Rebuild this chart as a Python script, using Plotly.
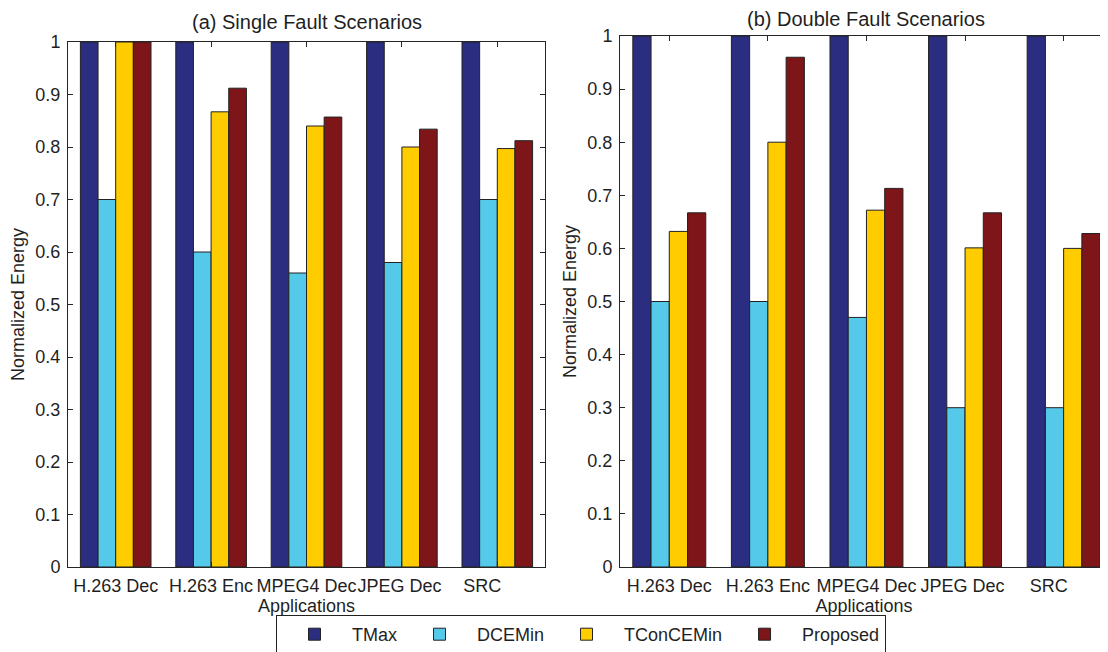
import plotly.graph_objects as go

# ---------------- data ----------------
apps = ["H.263 Dec", "H.263 Enc", "MPEG4 Dec", "JPEG Dec", "SRC"]
# MATLAB-style padded tick labels (char-matrix padding to equal length)
tick_labels = ["H.263 Dec", "H.263 Enc", "MPEG4 Dec", "JPEG Dec\u00a0", "SRC\u00a0\u00a0\u00a0\u00a0\u00a0\u00a0"]
series_names = ["TMax", "DCEMin", "TConCEMin", "Proposed"]
series_colors = ["#2B2D80", "#55C9E9", "#FFCC00", "#7E1518"]

single_tmax = [1.0, 1.0, 1.0, 1.0, 1.0]
single_dcemin = [0.70, 0.60, 0.56, 0.58, 0.70]
single_tconcemin = [1.0, 0.867, 0.840, 0.800, 0.797]
single_proposed = [1.0, 0.912, 0.857, 0.834, 0.812]

double_tmax = [1.0, 1.0, 1.0, 1.0, 1.0]
double_dcemin = [0.50, 0.50, 0.47, 0.30, 0.30]
double_tconcemin = [0.632, 0.800, 0.672, 0.601, 0.600]
double_proposed = [0.667, 0.960, 0.713, 0.667, 0.628]

ytick_vals = [0, 0.1, 0.2, 0.3, 0.4, 0.5, 0.6, 0.7, 0.8, 0.9, 1.0]
ytick_text = ["0", "0.1", "0.2", "0.3", "0.4", "0.5", "0.6", "0.7", "0.8", "0.9", "1"]

# ---------------- figure ----------------
# page body has an 8px default margin; the figure fills the rest of the window
PAGE_W, PAGE_H, OFF = 1108, 652, 8
W, H = PAGE_W - OFF, PAGE_H - OFF
FONT = "Liberation Sans, Arial, Helvetica, sans-serif"
TXT = "#1f1f1f"
LINE = "#262626"

fig = go.Figure()

single = [single_tmax, single_dcemin, single_tconcemin, single_proposed]
double = [double_tmax, double_dcemin, double_tconcemin, double_proposed]

for name, color, vals in zip(series_names, series_colors, single):
    fig.add_trace(go.Bar(x=apps, y=vals, name=name, marker_color=color,
                         marker_line=dict(color="#222222", width=1),
                         xaxis="x", yaxis="y", showlegend=True, legendgroup=name))
for name, color, vals in zip(series_names, series_colors, double):
    fig.add_trace(go.Bar(x=apps, y=vals, name=name, marker_color=color,
                         marker_line=dict(color="#222222", width=1),
                         xaxis="x2", yaxis="y2", showlegend=False, legendgroup=name))


def px_x(p):
    return min(1.0, (p - OFF) / W)


def px_y(p):
    return (PAGE_H - p) / H


xcommon = dict(type="category", categoryorder="array", categoryarray=apps,
               tickmode="array", tickvals=apps, ticktext=tick_labels, tickangle=0,
               ticks="inside", ticklen=5, tickcolor=LINE,
               showline=True, linecolor=LINE, linewidth=1, mirror="ticks",
               showgrid=False, zeroline=False,
               tickfont=dict(family=FONT, size=18, color=TXT),
               ticklabelstandoff=2, automargin=False)
ycommon = dict(range=[0, 1], tickmode="array", tickvals=ytick_vals, ticktext=ytick_text,
               ticks="inside", ticklen=5, tickcolor=LINE,
               showline=True, linecolor=LINE, linewidth=1,
               showgrid=False, zeroline=False,
               tickfont=dict(family=FONT, size=18, color=TXT),
               ticklabelstandoff=3, automargin=False)

fig.update_layout(
    width=W, height=H,
    margin=dict(l=0, r=0, t=0, b=0, autoexpand=False),
    paper_bgcolor="white", plot_bgcolor="white",
    barmode="group", bargap=0.26, bargroupgap=0.0,
    font=dict(family=FONT, size=18, color=TXT),
    xaxis=dict(domain=[px_x(68), px_x(545)], range=[-0.5, 4.5], anchor="y",
               title=dict(text="Applications", standoff=2,
                          font=dict(family=FONT, size=18, color=TXT)),
               **xcommon),
    yaxis=dict(domain=[px_y(567), px_y(42)], anchor="x", mirror="ticks",
               title=dict(text="Normalized Energy", standoff=6,
                          font=dict(family=FONT, size=18, color=TXT)),
               **ycommon),
    xaxis2=dict(domain=[px_x(620), px_x(1108)], range=[-0.5, 4.45], anchor="y2",
                title=dict(text="Applications", standoff=2,
                           font=dict(family=FONT, size=18, color=TXT)),
                **xcommon),
    yaxis2=dict(domain=[px_y(567), px_y(36)], anchor="x2", mirror=False,
                title=dict(text="Normalized Energy", standoff=6,
                           font=dict(family=FONT, size=18, color=TXT)),
                **ycommon),
    legend=dict(orientation="h", x=px_x(276), xanchor="left", y=px_y(615), yanchor="top",
                bgcolor="white", bordercolor="#222222", borderwidth=1,
                font=dict(family=FONT, size=18, color=TXT),
                itemwidth=65, traceorder="normal"),
    annotations=[
        dict(text="(a) Single Fault Scenarios", x=(px_x(68) + px_x(545)) / 2, y=px_y(22),
             xref="paper", yref="paper", xanchor="center", yanchor="middle",
             showarrow=False, font=dict(family=FONT, size=20, color=TXT)),
        dict(text="(b) Double Fault Scenarios", x=((620 + 1112) / 2 - OFF) / W, y=px_y(19),
             xref="paper", yref="paper", xanchor="center", yanchor="middle",
             showarrow=False, font=dict(family=FONT, size=20, color=TXT)),
    ],
)

fig.write_html("out.html")
